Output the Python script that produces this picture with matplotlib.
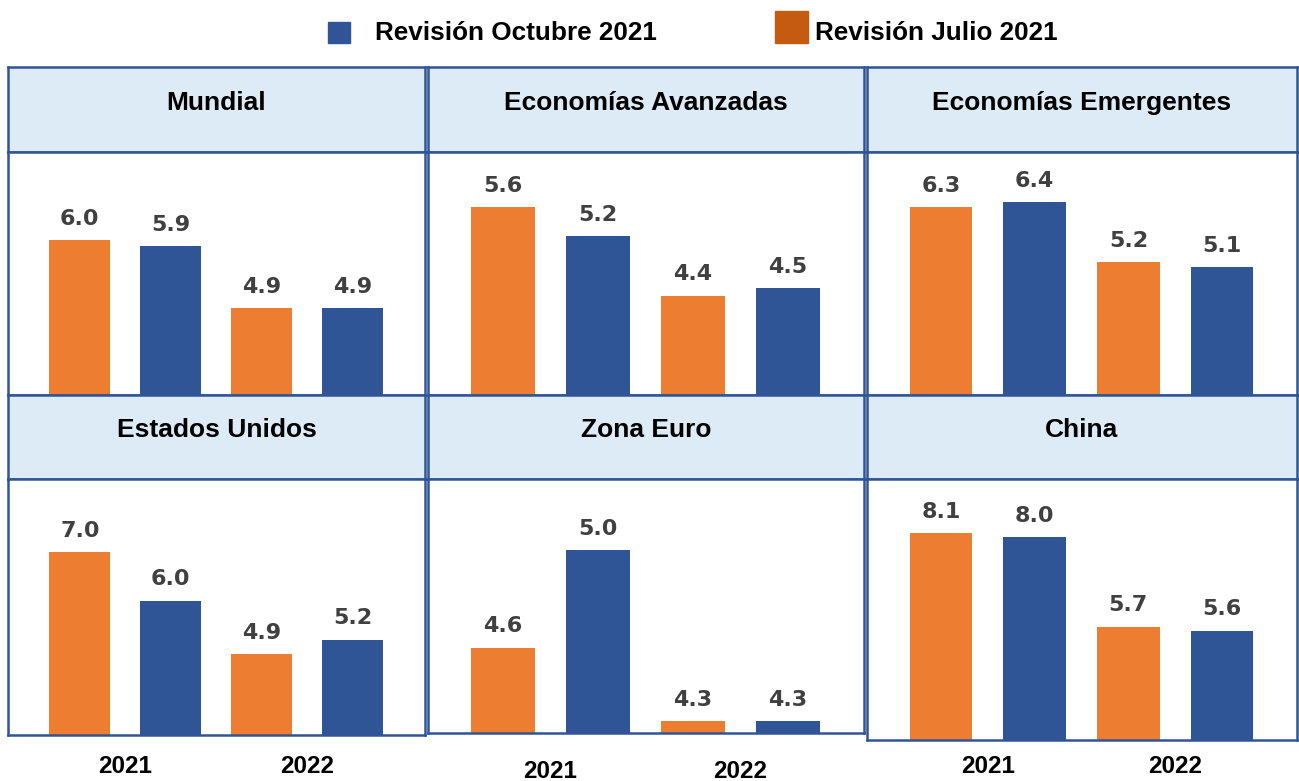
import matplotlib.pyplot as plt
from matplotlib.patches import Rectangle

# Proyecciones de crecimiento (%), FMI
regions = ['Mundial', 'Economías Avanzadas', 'Economías Emergentes',
           'Estados Unidos', 'Zona Euro', 'China']
julio_2021 = [6.0, 5.6, 6.3, 7.0, 4.6, 8.1]
octubre_2021 = [5.9, 5.2, 6.4, 6.0, 5.0, 8.0]
julio_2022 = [4.9, 4.4, 5.2, 4.9, 4.3, 5.7]
octubre_2022 = [4.9, 4.5, 5.1, 5.2, 4.3, 5.6]
years = ['2021', '2022']
legend_labels = ['Revisión Octubre 2021', 'Revisión Julio 2021']

# each panel uses its own truncated axis
ylims = [(3.49, 7.43), (3.06, 6.34), (2.54, 7.4),
         (3.25, 8.49), (4.25, 5.29), (2.79, 9.49)]

ORANGE = '#ED7D31'
BLUE = '#2F5597'
HEADER = '#DDEBF7'
EDGE = '#2F5597'
W, H = 1299, 781

plt.rcParams['font.family'] = ['Liberation Sans', 'DejaVu Sans']
fig = plt.figure(figsize=(W / 100, H / 100), dpi=100)


def box(x0, y0, x1, y1):
    return [x0 / W, 1 - y1 / H, (x1 - x0) / W, (y1 - y0) / H]


cols = [(8, 425), (428, 864), (867, 1297)]
rows = [((67, 152), (152, 395)), ((395, 479), (479, 736))]
bottoms = [[395, 395, 395], [735, 733, 740]]
year_offsets = [23, 28, 19]

for i, name in enumerate(regions):
    r, c = divmod(i, 3)
    x0, x1 = cols[c]
    (h0, h1), (b0, _) = rows[r]
    b1 = bottoms[r][c]

    hax = fig.add_axes(box(x0, h0, x1, h1))
    hax.set_facecolor(HEADER)
    hax.set_xticks([])
    hax.set_yticks([])
    for s in hax.spines.values():
        s.set_color(EDGE)
        s.set_linewidth(1.8)
    hax.text(0.5, 0.58, name, ha='center', va='center', fontsize=19,
             fontweight='bold', transform=hax.transAxes)

    ax = fig.add_axes(box(x0, b0, x1, b1))
    vals = [julio_2021[i], octubre_2021[i], julio_2022[i], octubre_2022[i]]
    bars = ax.bar(range(4), vals, width=0.67,
                  color=[ORANGE, BLUE, ORANGE, BLUE])
    ax.set_xlim(-0.79, 3.8)
    ax.set_ylim(*ylims[i])
    ax.set_xticks([])
    ax.set_yticks([])
    for s in ax.spines.values():
        s.set_color(EDGE)
        s.set_linewidth(1.8)
    for b, v in zip(bars, vals):
        ax.annotate(f'{v:.1f}', (b.get_x() + b.get_width() / 2, v),
                    xytext=(0, 11), textcoords='offset points',
                    ha='center', va='baseline', fontsize=16,
                    fontweight='bold', color='#404040', family='DejaVu Sans')
    if r == 1:
        for k, y in enumerate(years):
            ax.annotate(y, (0.5 + 2 * k, 0), xycoords=('data', 'axes fraction'),
                        xytext=(0, -year_offsets[c]), textcoords='offset points',
                        ha='center', va='center', fontsize=17.5,
                        fontweight='bold', annotation_clip=False)

# legend at the top
fig.patches.append(Rectangle((328 / W, 1 - 43 / H), 22 / W, 21 / H,
                             color=BLUE, transform=fig.transFigure))
fig.text(375 / W, 1 - 33 / H, legend_labels[0], ha='left', va='center',
         fontsize=18.8, fontweight='bold')
fig.patches.append(Rectangle((775 / W, 1 - 43 / H), 33 / W, 32 / H,
                             color='#C55A11', transform=fig.transFigure))
fig.text(815 / W, 1 - 33 / H, legend_labels[1], ha='left', va='center',
         fontsize=18.8, fontweight='bold')

fig.savefig('out.png', dpi=100)
